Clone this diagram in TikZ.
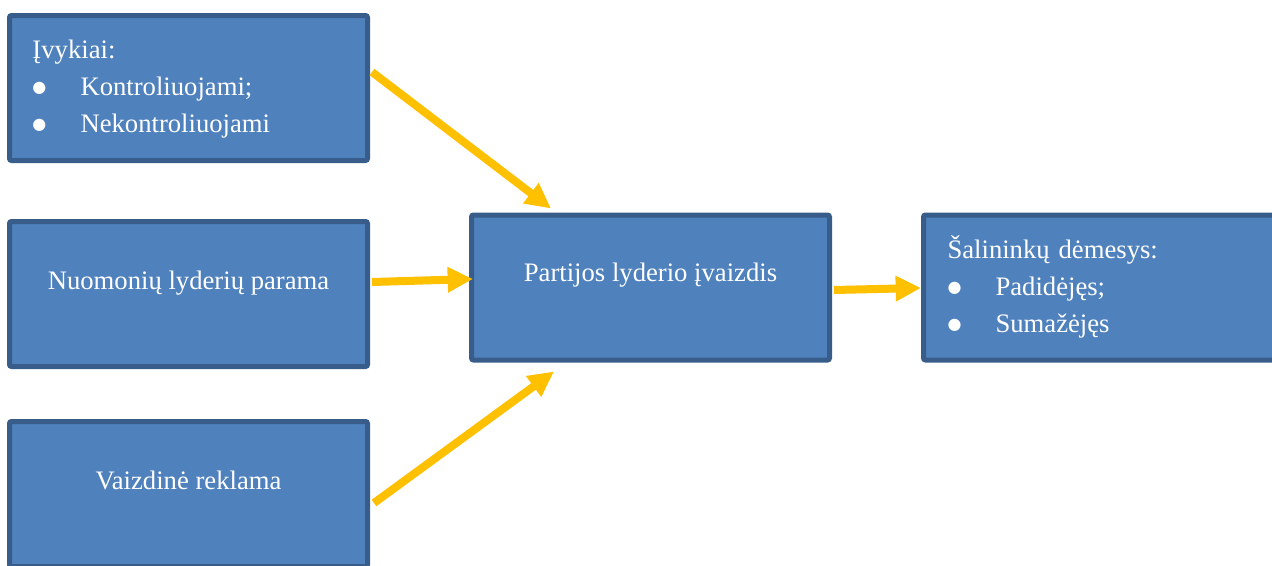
\documentclass[tikz,border=0pt]{standalone}
\usepackage{fontspec}
\setmainfont{Liberation Serif}
\newfontfamily\symfont{DejaVu Sans}
\usetikzlibrary{arrows.meta,calc}

\definecolor{boxfill}{RGB}{79,129,189}
\definecolor{boxline}{RGB}{56,93,138}
\definecolor{arrowgold}{RGB}{255,192,0}

\newcommand{\listbul}{\makebox[36pt][l]{\raisebox{2.2pt}{\symfont\fontsize{12}{12}\selectfont ●}}}

\tikzset{every picture/.style={line width=0.75pt}}
\tikzset{
  blockbox/.style={draw=boxline, fill=boxfill, line width=3.75pt, rounded corners=1.5pt,
    minimum width=268.5pt, minimum height=108.75pt, outer sep=0pt, inner sep=0pt},
  boxtext/.style={text=white, inner sep=0pt, font=\fontsize{20}{27.75}\selectfont},
  listtext/.style={boxtext, text width=240pt, align=left, anchor=base west},
  goldarrow/.style={draw=arrowgold, line width=6pt, -{Triangle[length=19pt,width=18pt]}}
}

\begin{document}
\begin{tikzpicture}[x=0.75pt,y=0.75pt,yscale=-1,xscale=1]
\useasboundingbox (0,0) rectangle (1272,565);
\clip (0,0) rectangle (1272,565);

% Boxes
\node [blockbox] (events) at (188.5,88) {};
\node [blockbox] (leaders) at (188.5,294) {};
\node [blockbox] (visual) at (188.5,494) {};
\node [blockbox] (image) at (650.5,287.5) {};
\node [blockbox] (support) at (1102.5,287.5) {};

% Text Node
\node [listtext] (eventstxt) at (32,58) {Įvykiai:\\ \listbul Kontroliuojami;\\ \listbul Nekontroliuojami};
% Text Node
\node [boxtext, anchor=base] (leaderstxt) at (188.5,289) {Nuomonių lyderių parama};
% Text Node
\node [boxtext, anchor=base] (visualtxt) at (188.5,489) {Vaizdinė reklama};
% Text Node
\node [boxtext, anchor=base] (imagetxt) at (650.5,281) {Partijos lyderio įvaizdis};
% Text Node
\node [listtext] (supporttxt) at (947,258) {Šalininkų dėmesys:\\ \listbul Padidėjęs;\\ \listbul Sumažėjęs};

%Arrows
\draw [goldarrow] ($(events.east)+(4.5,-16)$) -- ($(image.north west)+(79.5,-6.5)$);
\draw [goldarrow] ($(leaders.east)+(4.5,-12)$) -- ($(image.west)+(1.5,-8.5)$);
\draw [goldarrow] ($(visual.east)+(6.5,9)$) -- ($(image.south west)+(82.5,11.5)$);
\draw [goldarrow] ($(image.east)+(4.5,2.5)$) -- ($(support.west)+(-2.5,0.5)$);

\end{tikzpicture}
\end{document}
